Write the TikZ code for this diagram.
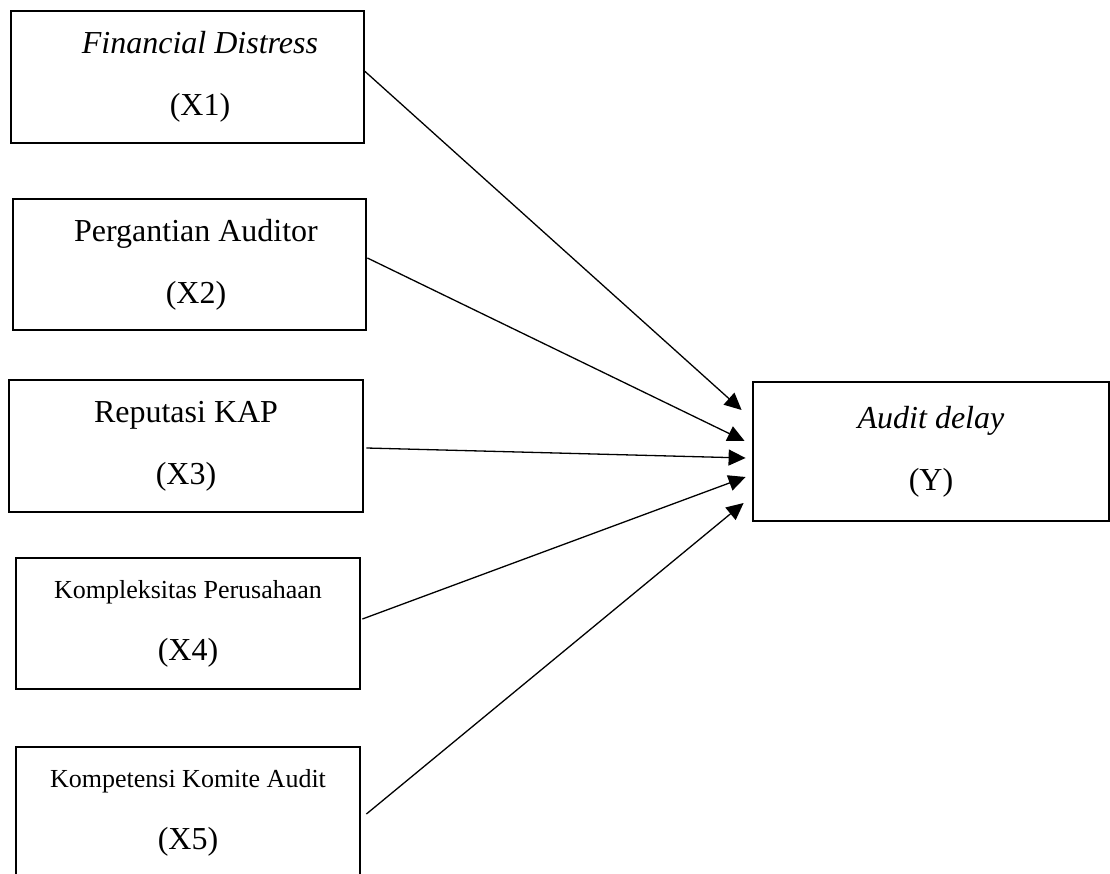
\documentclass[tikz,border=0pt]{standalone}
\usepackage{fontspec}
\setmainfont{Liberation Serif}
\usetikzlibrary{arrows.meta, positioning}

\begin{document}
\begin{tikzpicture}[
    x=1pt, y=1pt,
    every node/.style={font=\fontsize{32}{62}\selectfont},
    varbox/.style={rectangle, draw, line width=2.8pt, minimum width=353pt, minimum height=132pt, align=center, inner sep=0pt},
    smallbox/.style={varbox, minimum width=344pt, minimum height=131pt},
    resultbox/.style={varbox, minimum width=356pt, minimum height=139pt},
    arrow/.style={-{Triangle[length=17pt, width=16pt]}, line width=1.3pt}
]
    \useasboundingbox (0,0) rectangle (1110,-874);

    % Independent variables
    \node[varbox] (x1) at (187.5,-77) {\hspace*{25pt}\textit{Financial Distress}\\\hspace*{25pt}(X1)};
    \node[varbox, below=53.2pt of x1, xshift=2pt, minimum height=131pt] (x2) {\hspace*{13pt}Pergantian Auditor\\\hspace*{13pt}(X2)};
    \node[varbox, below=47.2pt of x2, xshift=-3.5pt, minimum width=354pt] (x3) {Reputasi KAP\\(X3)};
    \node[smallbox, below=43.2pt of x3, xshift=2pt] (x4) {{\fontsize{26}{62}\selectfont Kompleksitas Perusahaan}\\(X4)};
    \node[smallbox, below=55.2pt of x4] (x5) {{\fontsize{26}{62}\selectfont Kompetensi Komite Audit}\\(X5)};

    % Dependent variable
    \node[resultbox, right=387.2pt of x3, yshift=-5.5pt] (y) {\textit{Audit delay}\\(Y)};

    % Arrows
    \draw[arrow] ([xshift=-2pt, yshift=7pt]x1.east) -- ([xshift=-10pt, yshift=41.5pt]y.west);
    \draw[arrow] ([yshift=6.5pt]x2.east) -- ([xshift=-7pt, yshift=10.5pt]y.west);
    \draw[arrow] ([xshift=2pt, yshift=-2pt]x3.east) -- ([xshift=-6pt, yshift=-6.5pt]y.west);
    \draw[arrow] ([xshift=1pt, yshift=4.5pt]x4.east) -- ([xshift=-6pt, yshift=-25.5pt]y.west);
    \draw[arrow] ([xshift=5pt, yshift=-1.5pt]x5.east) -- ([xshift=-8pt, yshift=-51.5pt]y.west);

\end{tikzpicture}
\end{document}
